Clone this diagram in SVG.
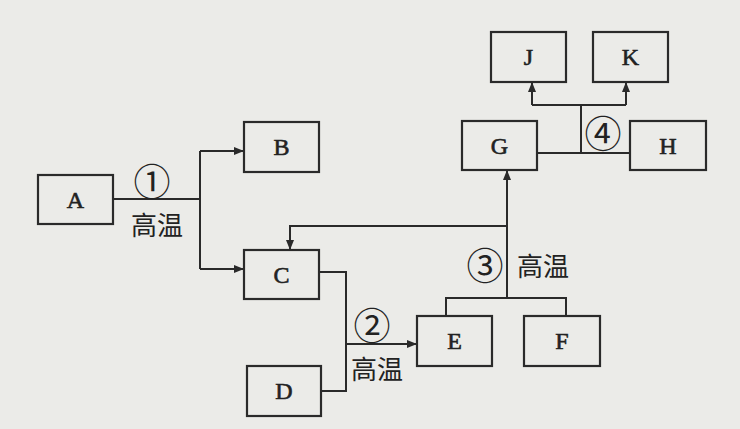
<svg xmlns="http://www.w3.org/2000/svg" width="740" height="429" viewBox="0 0 740 429">
<defs>
<marker id="ah" viewBox="0 0 10 10" refX="10" refY="5" markerWidth="10" markerHeight="10" markerUnits="userSpaceOnUse" orient="auto">
<path d="M0,1 L10,5 L0,9 Z" fill="#2a2a2a"/>
</marker>
<style>
.box{fill:none;stroke:#2a2a2a;stroke-width:2.2}
.lbl{font-family:"Liberation Serif","DejaVu Serif",serif;font-size:24px;fill:#222;stroke:#222;stroke-width:0.6;text-anchor:middle;dominant-baseline:central}
.ln{fill:none;stroke:#2a2a2a;stroke-width:2}
.cn{font-family:"Noto Sans CJK SC",sans-serif;font-size:26px;fill:#222;text-anchor:middle;dominant-baseline:central}
.num{font-family:"Noto Sans CJK SC","DejaVu Sans",sans-serif;font-size:37px;fill:#222;text-anchor:middle;dominant-baseline:central}
</style>
</defs>
<rect width="740" height="429" fill="#ebebe8"/>
<g id="A"><rect class="box" x="38" y="175" width="75" height="49"/><text class="lbl" x="75.5" y="200">A</text></g>
<g id="B"><rect class="box" x="244" y="122" width="75" height="50"/><text class="lbl" x="281.5" y="147">B</text></g>
<g id="C"><rect class="box" x="244" y="250" width="75" height="49"/><text class="lbl" x="281.5" y="275">C</text></g>
<g id="D"><rect class="box" x="247" y="366" width="74" height="50"/><text class="lbl" x="284" y="391">D</text></g>
<g id="E"><rect class="box" x="417" y="316" width="75" height="50"/><text class="lbl" x="454.5" y="341">E</text></g>
<g id="F"><rect class="box" x="524" y="316" width="76" height="50"/><text class="lbl" x="562" y="341">F</text></g>
<g id="G"><rect class="box" x="462" y="121" width="75" height="49"/><text class="lbl" x="499.5" y="146">G</text></g>
<g id="H"><rect class="box" x="630" y="121" width="76" height="49"/><text class="lbl" x="668" y="146">H</text></g>
<g id="J"><rect class="box" x="491" y="32" width="75" height="50"/><text class="lbl" x="528.5" y="57">J</text></g>
<g id="K"><rect class="box" x="593" y="32" width="75" height="50"/><text class="lbl" x="630.5" y="57">K</text></g>
<g id="connectors">
<path class="ln" d="M113,199 H200 M200,151 V269"/>
<path class="ln" d="M200,151 H244" marker-end="url(#ah)"/>
<path class="ln" d="M200,269 H244" marker-end="url(#ah)"/>
<path class="ln" d="M319,272 H346 V391 H321"/>
<path class="ln" d="M346,344 H417" marker-end="url(#ah)"/>
<path class="ln" d="M446,316 V298 H566 V316"/>
<path class="ln" d="M507,298 V170" marker-end="url(#ah)"/>
<path class="ln" d="M507,226 H290 V250" marker-end="url(#ah)"/>
<path class="ln" d="M537,153 H630 M581,153 V105 M532,105 H626"/>
<path class="ln" d="M532,105 V82" marker-end="url(#ah)"/>
<path class="ln" d="M626,105 V82" marker-end="url(#ah)"/>
<text class="num" x="152" y="180">①</text>
<text class="cn" x="157" y="223">高温</text>
<text class="num" x="372" y="324">②</text>
<text class="cn" x="377" y="367">高温</text>
<text class="num" x="485" y="264">③</text>
<text class="cn" x="543" y="264">高温</text>
<text class="num" x="603" y="132">④</text>
</g>
</svg>
